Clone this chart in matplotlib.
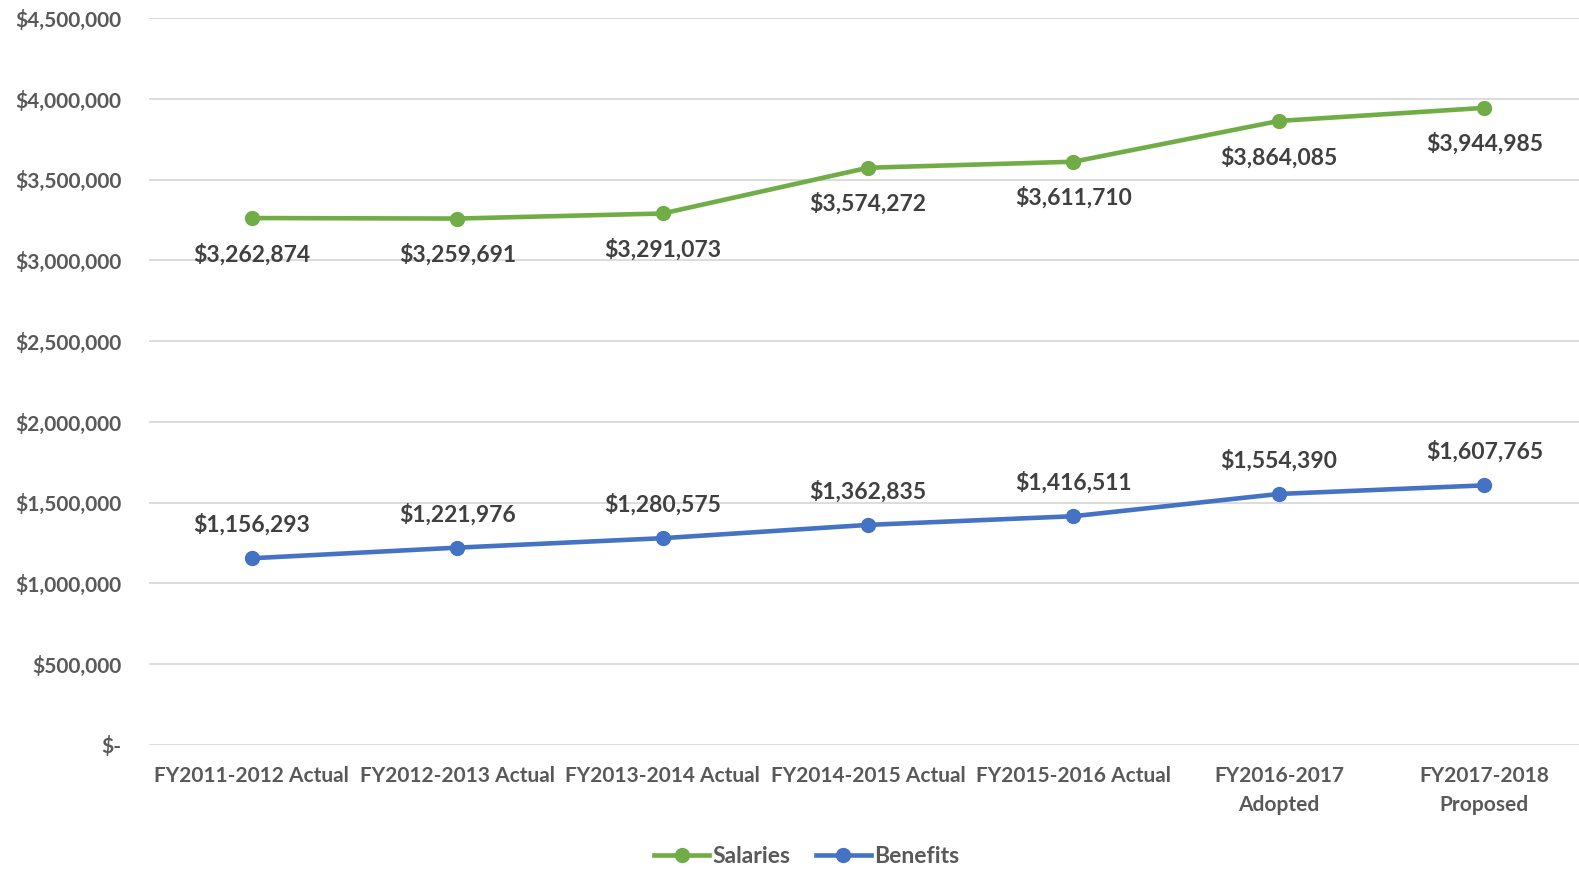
import matplotlib
matplotlib.use("Agg")
import matplotlib.pyplot as plt
from matplotlib.ticker import FuncFormatter

categories = ["FY2011-2012 Actual", "FY2012-2013 Actual", "FY2013-2014 Actual",
              "FY2014-2015 Actual", "FY2015-2016 Actual", "FY2016-2017\nAdopted",
              "FY2017-2018\nProposed"]
salaries = [3262874, 3259691, 3291073, 3574272, 3611710, 3864085, 3944985]
benefits = [1156293, 1221976, 1280575, 1362835, 1416511, 1554390, 1607765]
yticks = [0, 500000, 1000000, 1500000, 2000000, 2500000, 3000000, 3500000, 4000000, 4500000]

plt.rcParams['font.family'] = ['Lato', 'DejaVu Sans']
plt.rcParams['font.weight'] = 'bold'

fig = plt.figure(figsize=(15.79, 8.69), dpi=100)
ax = fig.add_axes([0.0944, 0.1427, 0.9107, 0.8363])

green = "#70AD47"
blue = "#4472C4"
x = list(range(len(categories)))

ax.plot(x, salaries, color=green, lw=3.3, marker='o', ms=10, label="Salaries", zorder=3)
ax.plot(x, benefits, color=blue, lw=3.3, marker='o', ms=10, label="Benefits", zorder=3)

for xi, v in zip(x, salaries):
    ax.annotate(f"${v:,.0f}", (xi, v), xytext=(0, -26), textcoords='offset points',
                ha='center', va='center', fontsize=16.5, color='#404040', fontweight='bold')
for xi, v in zip(x, benefits):
    ax.annotate(f"${v:,.0f}", (xi, v), xytext=(0, 24), textcoords='offset points',
                ha='center', va='center', fontsize=16.5, color='#404040', fontweight='bold')

ax.set_xlim(-0.5, len(categories) - 0.5)
ax.set_ylim(0, 4500000)
ax.set_yticks(yticks)
ax.yaxis.set_major_formatter(FuncFormatter(lambda v, p: "$-" if v == 0 else f"${v:,.0f}"))
ax.set_xticks(x)
ax.set_xticklabels(categories)
ax.grid(axis='y', color='#D9D9D9', lw=1.3)
ax.set_axisbelow(True)
for s in ax.spines.values():
    s.set_visible(False)
ax.tick_params(axis='both', length=0, colors='#595959', labelsize=15)
ax.tick_params(axis='y', pad=20)
ax.tick_params(axis='x', pad=15)
for t in ax.get_yticklabels() + ax.get_xticklabels():
    t.set_fontweight('bold')
    t.set_linespacing(1.6)

leg = fig.legend(loc='lower center', bbox_to_anchor=(0.511, -0.022), ncol=2, frameon=False,
                 fontsize=16.5, handlelength=2.4, columnspacing=1.1, handletextpad=0.15)
for t in leg.get_texts():
    t.set_color('#595959')
    t.set_fontweight('bold')

fig.savefig("out.png", dpi=100)
